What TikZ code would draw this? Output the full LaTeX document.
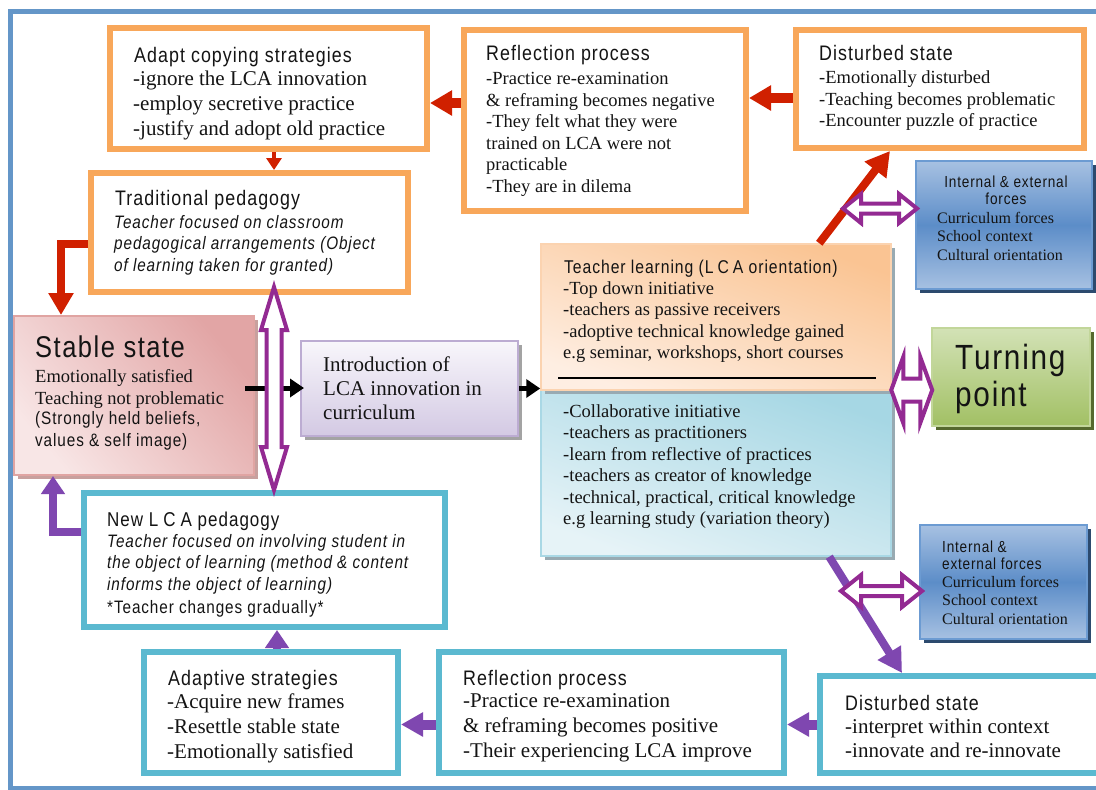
\documentclass[tikz,border=0pt]{standalone}
\usepackage{fontspec}
\setmainfont{Liberation Serif}
\newfontfamily\tf[FakeStretch=0.85,LetterSpace=5]{Liberation Sans}
\usetikzlibrary{calc,arrows.meta,shadows}
\definecolor{frameC}{HTML}{6496C8}
\definecolor{orangeC}{HTML}{F8A75A}
\definecolor{tealC}{HTML}{5BB9D0}
\definecolor{redC}{HTML}{D02000}
\definecolor{dblC}{HTML}{932A92}
\definecolor{vioC}{HTML}{7F47B0}
\definecolor{txtC}{HTML}{141414}
\definecolor{stableD}{HTML}{E2A5A5}
\definecolor{stableL}{HTML}{F8E6E6}
\definecolor{stableB}{HTML}{E0A4A2}
\definecolor{stableS}{HTML}{C8A09E}
\definecolor{introT}{HTML}{F8F6FB}
\definecolor{introB}{HTML}{D3C9E3}
\definecolor{introE}{HTML}{BCACD2}
\definecolor{greyS}{HTML}{A3A3A3}
\definecolor{teachOT}{HTML}{FAC493}
\definecolor{teachOB}{HTML}{FEEEE2}
\definecolor{teachOE}{HTML}{FBD3B0}
\definecolor{teachBT}{HTML}{A6D7E4}
\definecolor{teachBB}{HTML}{E6F3F7}
\definecolor{teachBE}{HTML}{A9D8E5}
\definecolor{teachS}{HTML}{98AAB2}
\definecolor{intL}{HTML}{A7C1E2}
\definecolor{intM}{HTML}{5C8DC8}
\definecolor{intE}{HTML}{6C9BD2}
\definecolor{intS}{HTML}{2C4A6E}
\definecolor{turnT}{HTML}{D3E2B6}
\definecolor{turnB}{HTML}{A2C064}
\definecolor{turnE}{HTML}{C2D69A}
\definecolor{turnS}{HTML}{56692E}
\begin{document}
\begin{tikzpicture}[x=1pt,y=-1pt,
  obox/.style={draw=orangeC, line width=6pt, fill=white, inner sep=0pt},
  tbox/.style={draw=tealC, line width=6pt, fill=white, inner sep=0pt},
  body/.style={anchor=north west, inner sep=0pt, align=left, text=txtC, execute at begin node=\strut},
  ttl/.style={anchor=base west, inner sep=0pt, text=txtC, font=\tf\fontsize{21}{25}\selectfont},
  serifL/.style={font=\fontsize{21}{25}\selectfont},
  serifM/.style={font=\fontsize{18.5}{21.5}\selectfont},
  serifS/.style={font=\fontsize{16}{18.5}\selectfont},
  itM/.style={font=\tf\itshape\fontsize{18}{21.5}\selectfont},
  shad/.style={drop shadow={shadow xshift=4pt, shadow yshift=-4pt, opacity=1, fill=#1}},
  redA/.style={draw=redC, line width=10pt, -{Triangle[length=22pt,width=24pt]}},
  redE/.style={draw=redC, line width=8pt, line join=miter, -{Triangle[length=22pt,width=24pt]}},
  redD/.style={draw=redC, line width=8pt, -{Triangle[length=24pt,width=26pt]}},
  redS/.style={draw=redC, line width=4pt, -{Triangle[length=12pt,width=15pt]}},
  vioA/.style={draw=vioC, line width=10pt, -{Triangle[length=22pt,width=23pt]}},
  vioD/.style={draw=vioC, line width=8pt, -{Triangle[length=24pt,width=26pt]}},
  vioE/.style={draw=vioC, line width=8pt, line join=miter, -{Triangle[length=18pt,width=23pt]}},
  blkA/.style={draw=black, line width=5pt, -{Triangle[length=14pt,width=18pt]}},
  dblS/.style={draw=dblC, line width=4pt, fill=white, line join=miter},
  pics/dblarrow/.style n args={4}{code={
    \draw[dblS] ({-#1/2},0) -- ({-#1/2+#4},{#2/2}) -- ({-#1/2+#4},{#3/2})
      -- ({#1/2-#4},{#3/2}) -- ({#1/2-#4},{#2/2}) -- ({#1/2},0)
      -- ({#1/2-#4},{-#2/2}) -- ({#1/2-#4},{-#3/2}) -- ({-#1/2+#4},{-#3/2})
      -- ({-#1/2+#4},{-#2/2}) -- cycle;
  }}
]
\useasboundingbox (0,0) rectangle (1096,790);
\fill[white] (0,0) rectangle (1096,790);
% outer frame
\draw[frameC, line width=5pt] (10,11.5) rectangle (1104,788);

% orange boxes
\node[obox, minimum width=317pt, minimum height=121pt] (adapt) at (268.5,88.5) {};
\node[obox, minimum width=282pt, minimum height=181pt] (refl1) at (605,120.5) {};
\node[obox, minimum width=288pt, minimum height=118pt] (dist1) at (940,89) {};
\node[obox, minimum width=317pt, minimum height=119pt] (trad) at (249.5,232.5) {};
% teal boxes
\node[tbox, minimum width=361pt, minimum height=134pt] (newlca) at (264.5,560) {};
\node[tbox, minimum width=254pt, minimum height=121pt] (adapt2) at (271,712.5) {};
\node[tbox, minimum width=345pt, minimum height=121pt] (refl2) at (611.5,712.5) {};
\node[tbox, minimum width=280pt, minimum height=97pt] (dist2) at (960,724.5) {};

% shaded boxes
\node[draw=stableB, line width=2pt, inner sep=0pt, shad=stableS,
  top color=stableD, bottom color=stableL, shading angle=-50,
  minimum width=240pt, minimum height=159pt] (stable) at (134,395.5) {};
\node[draw=introE, line width=2pt, inner sep=0pt, shad=greyS,
  top color=introT, bottom color=introB,
  minimum width=217pt, minimum height=95pt] (intro) at (409.5,388.5) {};
\node[draw=teachBE, line width=1.5pt, inner sep=0pt, shad=teachS,
  top color=teachBT, bottom color=teachBB, shading angle=-20,
  minimum width=350pt, minimum height=166pt] (teachB) at (716,473) {};
\node[draw=teachOE, line width=1.5pt, inner sep=0pt, shad=teachS,
  top color=teachOT, bottom color=teachOB, shading angle=-20,
  minimum width=350pt, minimum height=146pt] (teachO) at (716,317) {};
\node[draw=turnE, line width=2.5pt, inner sep=0pt, shad=turnS,
  top color=turnT, bottom color=turnB,
  minimum width=158pt, minimum height=98pt] (turn) at (1011,377) {};
\node[draw=intE, line width=2pt, inner sep=0pt, shad=intS,
  top color=intL, bottom color=intL, middle color=intM,
  minimum width=176pt, minimum height=128pt] (int1) at (1004,225) {};
\node[draw=intE, line width=2pt, inner sep=0pt, shad=intS,
  top color=intL, bottom color=intL, middle color=intM,
  minimum width=167pt, minimum height=114pt] (int2) at (1003.5,582) {};

\draw[black, line width=2pt] ($(teachO.south west)+(18,-13)$) -- ($(teachO.south east)+(-16,-13)$);

% texts
\node[ttl] (adaptT) at (134,62) {Adapt copying strategies};
\node[body, serifL] (adaptX) at (133,70.5) {-ignore the LCA innovation\\-employ secretive practice\\-justify and adopt old practice};

\node[ttl] (refl1T) at (486,60) {Reflection process};
\node[body, serifM] (refl1X) at (486,72.5) {-Practice re-examination\\\& reframing becomes negative\\-They felt what they were\\trained on LCA were not\\practicable\\-They are in dilema};

\node[ttl] (dist1T) at (819,60) {Disturbed state};
\node[body, serifM] (dist1X) at (819,70.5) {-Emotionally disturbed\\-Teaching becomes problematic\\-Encounter puzzle of practice};

\node[ttl] (tradT) at (115,205) {Traditional pedagogy};
\node[body, itM] (tradX) at (114,215) {Teacher focused on classroom\\pedagogical arrangements (Object\\of learning taken for granted)};

\node[ttl, font=\tf\fontsize{30}{34}\selectfont] (stableT) at (35,357) {Stable state};
\node[body, serifM] (stableX) at (35,369.5) {Emotionally satisfied\\Teaching not problematic};
\node[body, font=\tf\fontsize{18}{21.3}\selectfont] (stableY) at (35,411.5) {(Strongly held beliefs,\\values \& self image)};

\node[body, font=\fontsize{21}{24}\selectfont] (introX) at (323,356.2) {Introduction of\\LCA innovation in\\curriculum};

\node[ttl, font=\tf\fontsize{18.5}{21.5}\selectfont] (teachT) at (564,273) {Teacher learning (L\kern4pt C\kern4pt A orientation)};
\node[body, serifM] (teachX) at (563,281) {-Top down initiative\\-teachers as passive receivers\\-adoptive technical knowledge gained\\e.g seminar, workshops, short courses};
\node[body, serifM] (teachY) at (563,404) {-Collaborative initiative\\-teachers as practitioners\\-learn from reflective of practices\\-teachers as creator of knowledge\\-technical, practical, critical knowledge\\e.g learning study (variation theory)};

\node[anchor=north, inner sep=0pt, align=center, text=txtC, execute at begin node=\strut, font=\tf\fontsize{16}{17}\selectfont] (int1T) at (1006,176.1) {Internal \& external\\forces};
\node[body, serifS] (int1X) at (937,212) {Curriculum forces\\School context\\Cultural orientation};

\node[body, font=\tf\fontsize{35}{37}\selectfont] (turnX) at (955,344) {Turning\\point};

\node[body, font=\tf\fontsize{16}{17}\selectfont] (int2T) at (942,540.5) {Internal \&\\external forces};
\node[body, serifS] (int2X) at (942,576) {Curriculum forces\\School context\\Cultural orientation};

\node[ttl, font=\tf\fontsize{20}{24}\selectfont] (newT) at (107,526) {New L\kern5pt C\kern5pt A pedagogy};
\node[body, itM] (newX) at (107,534) {Teacher focused on involving student in\\the object of learning (method \& content\\informs the object of learning)};
\node[ttl, font=\tf\fontsize{18}{21.5}\selectfont] (newY) at (107,613) {*Teacher changes gradually*};

\node[ttl] (adapt2T) at (168,685) {Adaptive strategies};
\node[body, serifL] (adapt2X) at (167,693.5) {-Acquire new frames\\-Resettle stable state\\-Emotionally satisfied};

\node[ttl] (refl2T) at (463,685) {Reflection process};
\node[body, serifL] (refl2X) at (463,693.5) {-Practice re-examination\\\& reframing becomes positive\\-Their experiencing LCA improve};

\node[ttl] (dist2T) at (845,710) {Disturbed state};
\node[body, font=\fontsize{21}{24}\selectfont] (dist2X) at (845,719.2) {-interpret within context\\-innovate and re-innovate};

% red connectors
\draw[redA] ($(dist1.west)+(0,9)$) coordinate (d1s) -- (refl1.east |- d1s);
\draw[redA] ($(refl1.west)+(0,-17.5)$) coordinate (r1s) -- (adapt.east |- r1s);
\draw[redS] ($(adapt.south)+(5.5,0)$) coordinate (a1s) -- (a1s |- trad.north);
\draw[redE] ($(trad.west)+(0,11.5)$) -| ($(stable.north west)+(48,0)$);
\draw[redD] ($(teachO.north west)+(279,0)$) -- ($(dist1.south west)+(97,0)$);

% black connectors
\draw[blkA] ($(stable.east)+(-10,-7.5)$) -- ($(intro.west)+(4,-0.5)$);
\draw[blkA] (intro.east) -- (teachO.west |- intro.east);

% violet connectors
\draw[vioD] ($(teachB.south west)+(289,0)$) -- ($(dist2.north west)+(85,0)$);
\draw[vioA] (dist2.west) -- (refl2.east |- dist2.west);
\draw[vioA] (refl2.west |- dist2.west) -- (adapt2.east |- dist2.west);
\draw[vioE] ($(adapt2.north)+(6,0)$) coordinate (a2s) -- (a2s |- newlca.south);
\draw[vioE] ($(newlca.west)+(0,-28)$) -| ($(stable.south west)+(40,0)$);

% double arrows
\pic[rotate=90] (dv) at ($(intro.west)+(-26,0)$) {dblarrow={203}{26}{15}{43}};
\pic (dt) at ($(int1.west)+(-35,-16.5)$) {dblarrow={74}{29}{10}{18}};
\pic (db) at ($(int2.west)+(-37.5,9)$) {dblarrow={81}{32}{10}{20}};
\pic (dp) at ($(turn.west)+(-19,13)$) {dblarrow={41}{66}{23}{12}};
\end{tikzpicture}
\end{document}
